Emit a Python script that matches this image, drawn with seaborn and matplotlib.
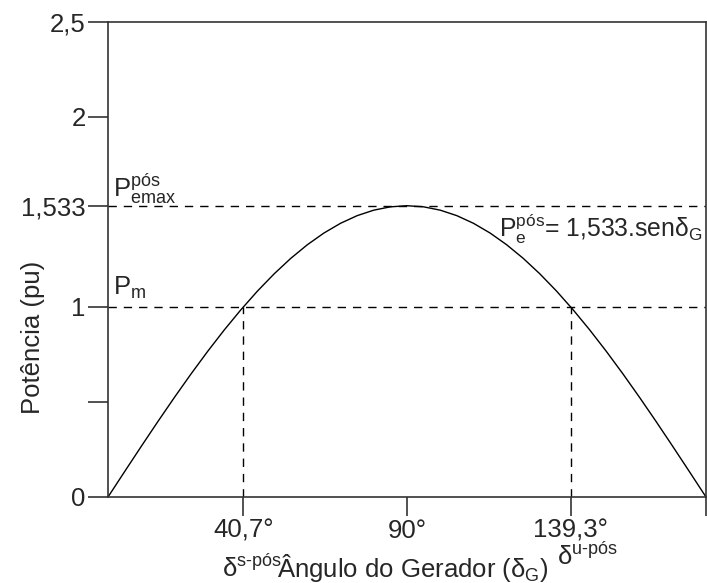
import matplotlib
matplotlib.use("Agg")
import matplotlib.pyplot as plt
import seaborn as sns
import pandas as pd

# ---- data ----
angles = [0, 5, 10, 15, 20, 25, 30, 35, 40, 45, 50, 55, 60, 65, 70, 75, 80, 85, 90,
          95, 100, 105, 110, 115, 120, 125, 130, 135, 140, 145, 150, 155, 160, 165, 170, 175, 180]
power = [0.0, 0.1336, 0.2662, 0.3968, 0.5243, 0.6479, 0.7665, 0.8793, 0.9854, 1.0840,
         1.1743, 1.2558, 1.3276, 1.3894, 1.4406, 1.4808, 1.5097, 1.5272, 1.533,
         1.5272, 1.5097, 1.4808, 1.4406, 1.3894, 1.3276, 1.2558, 1.1743, 1.0840,
         0.9854, 0.8793, 0.7665, 0.6479, 0.5243, 0.3968, 0.2662, 0.1336, 0.0]
p_mech = 1.0
p_emax = 1.533
delta_s = 40.7
delta_u = 139.3
x_ticks = [delta_s, 90, delta_u, 180]
x_ticklabels = ["40,7°", "90°", "139,3°", ""]
y_ticks = [0, 0.5, 1, 1.533, 2, 2.5]
y_ticklabels = ["0", "", "1", "1,533", "2", "2,5"]

sns.set_style("white")
plt.rcParams["font.family"] = ["Liberation Sans", "DejaVu Sans"]
plt.rcParams["mathtext.fontset"] = "custom"
plt.rcParams["mathtext.rm"] = "Liberation Sans"
plt.rcParams["mathtext.it"] = "Liberation Sans:italic"
plt.rcParams["mathtext.bf"] = "Liberation Sans:bold"

FS = 18.5
fig = plt.figure(figsize=(7.07, 5.83), dpi=100)
ax = fig.add_axes([108 / 707, 86 / 583, 598 / 707, 475 / 583])

df = pd.DataFrame({"ang": angles, "p": power})
sns.lineplot(data=df, x="ang", y="p", color="black", lw=1.0, ax=ax)

dash = (0, (6, 5))
ax.hlines([p_mech, p_emax], 0, 180, colors="black", linestyles=[dash], lw=1.0)
ax.vlines([delta_s, delta_u], 0, p_mech, colors="black", linestyles=[dash], lw=1.0)

ax.set_xlim(0, 180)
ax.set_ylim(0, 2.5)
ax.set_xticks(x_ticks)
ax.set_xticklabels(x_ticklabels, fontsize=FS)
ax.set_yticks(y_ticks)
ax.set_yticklabels(y_ticklabels, fontsize=FS)
ax.tick_params(axis="x", direction="out", length=14, width=1.2, color="#333333", pad=1.5, bottom=True)
ax.tick_params(axis="y", direction="out", length=14.5, width=1.2, color="#333333", pad=1.5, left=True)

for s in ax.spines.values():
    s.set_visible(True)
    s.set_color("#333333")
    s.set_linewidth(1.2)

ax.set_ylabel("Potência (pu)", fontsize=FS)
ax.yaxis.set_label_coords(-0.105, 0.335)
ax.set_xlabel("Ângulo do Gerador (δ$_{\\mathrm{G}}$)", fontsize=FS, va="baseline")
ax.xaxis.set_label_coords(0.51, -0.168)

ax.text(1.5, 1.579, r"P$^{\mathrm{pós}}_{\mathrm{emax}}$", fontsize=FS, ha="left", va="baseline")
ax.text(1.5, 1.063, r"P$_{\mathrm{m}}$", fontsize=FS, ha="left", va="baseline")
ax.text(117.8, 1.368, r"P$^{\mathrm{pós}}_{\mathrm{e}}$= 1,533.senδ$_{\mathrm{G}}$",
        fontsize=17.8, ha="left", va="baseline")

fig.text(222 / 707, (583 - 577) / 583, r"δ$^{\mathrm{s\text{-}pós}}$", fontsize=FS, ha="left", va="baseline")
fig.text(557 / 707, (583 - 565) / 583, r"δ$^{\mathrm{u\text{-}pós}}$", fontsize=FS, ha="left", va="baseline")

fig.savefig("out.png", dpi=100, facecolor="white")
